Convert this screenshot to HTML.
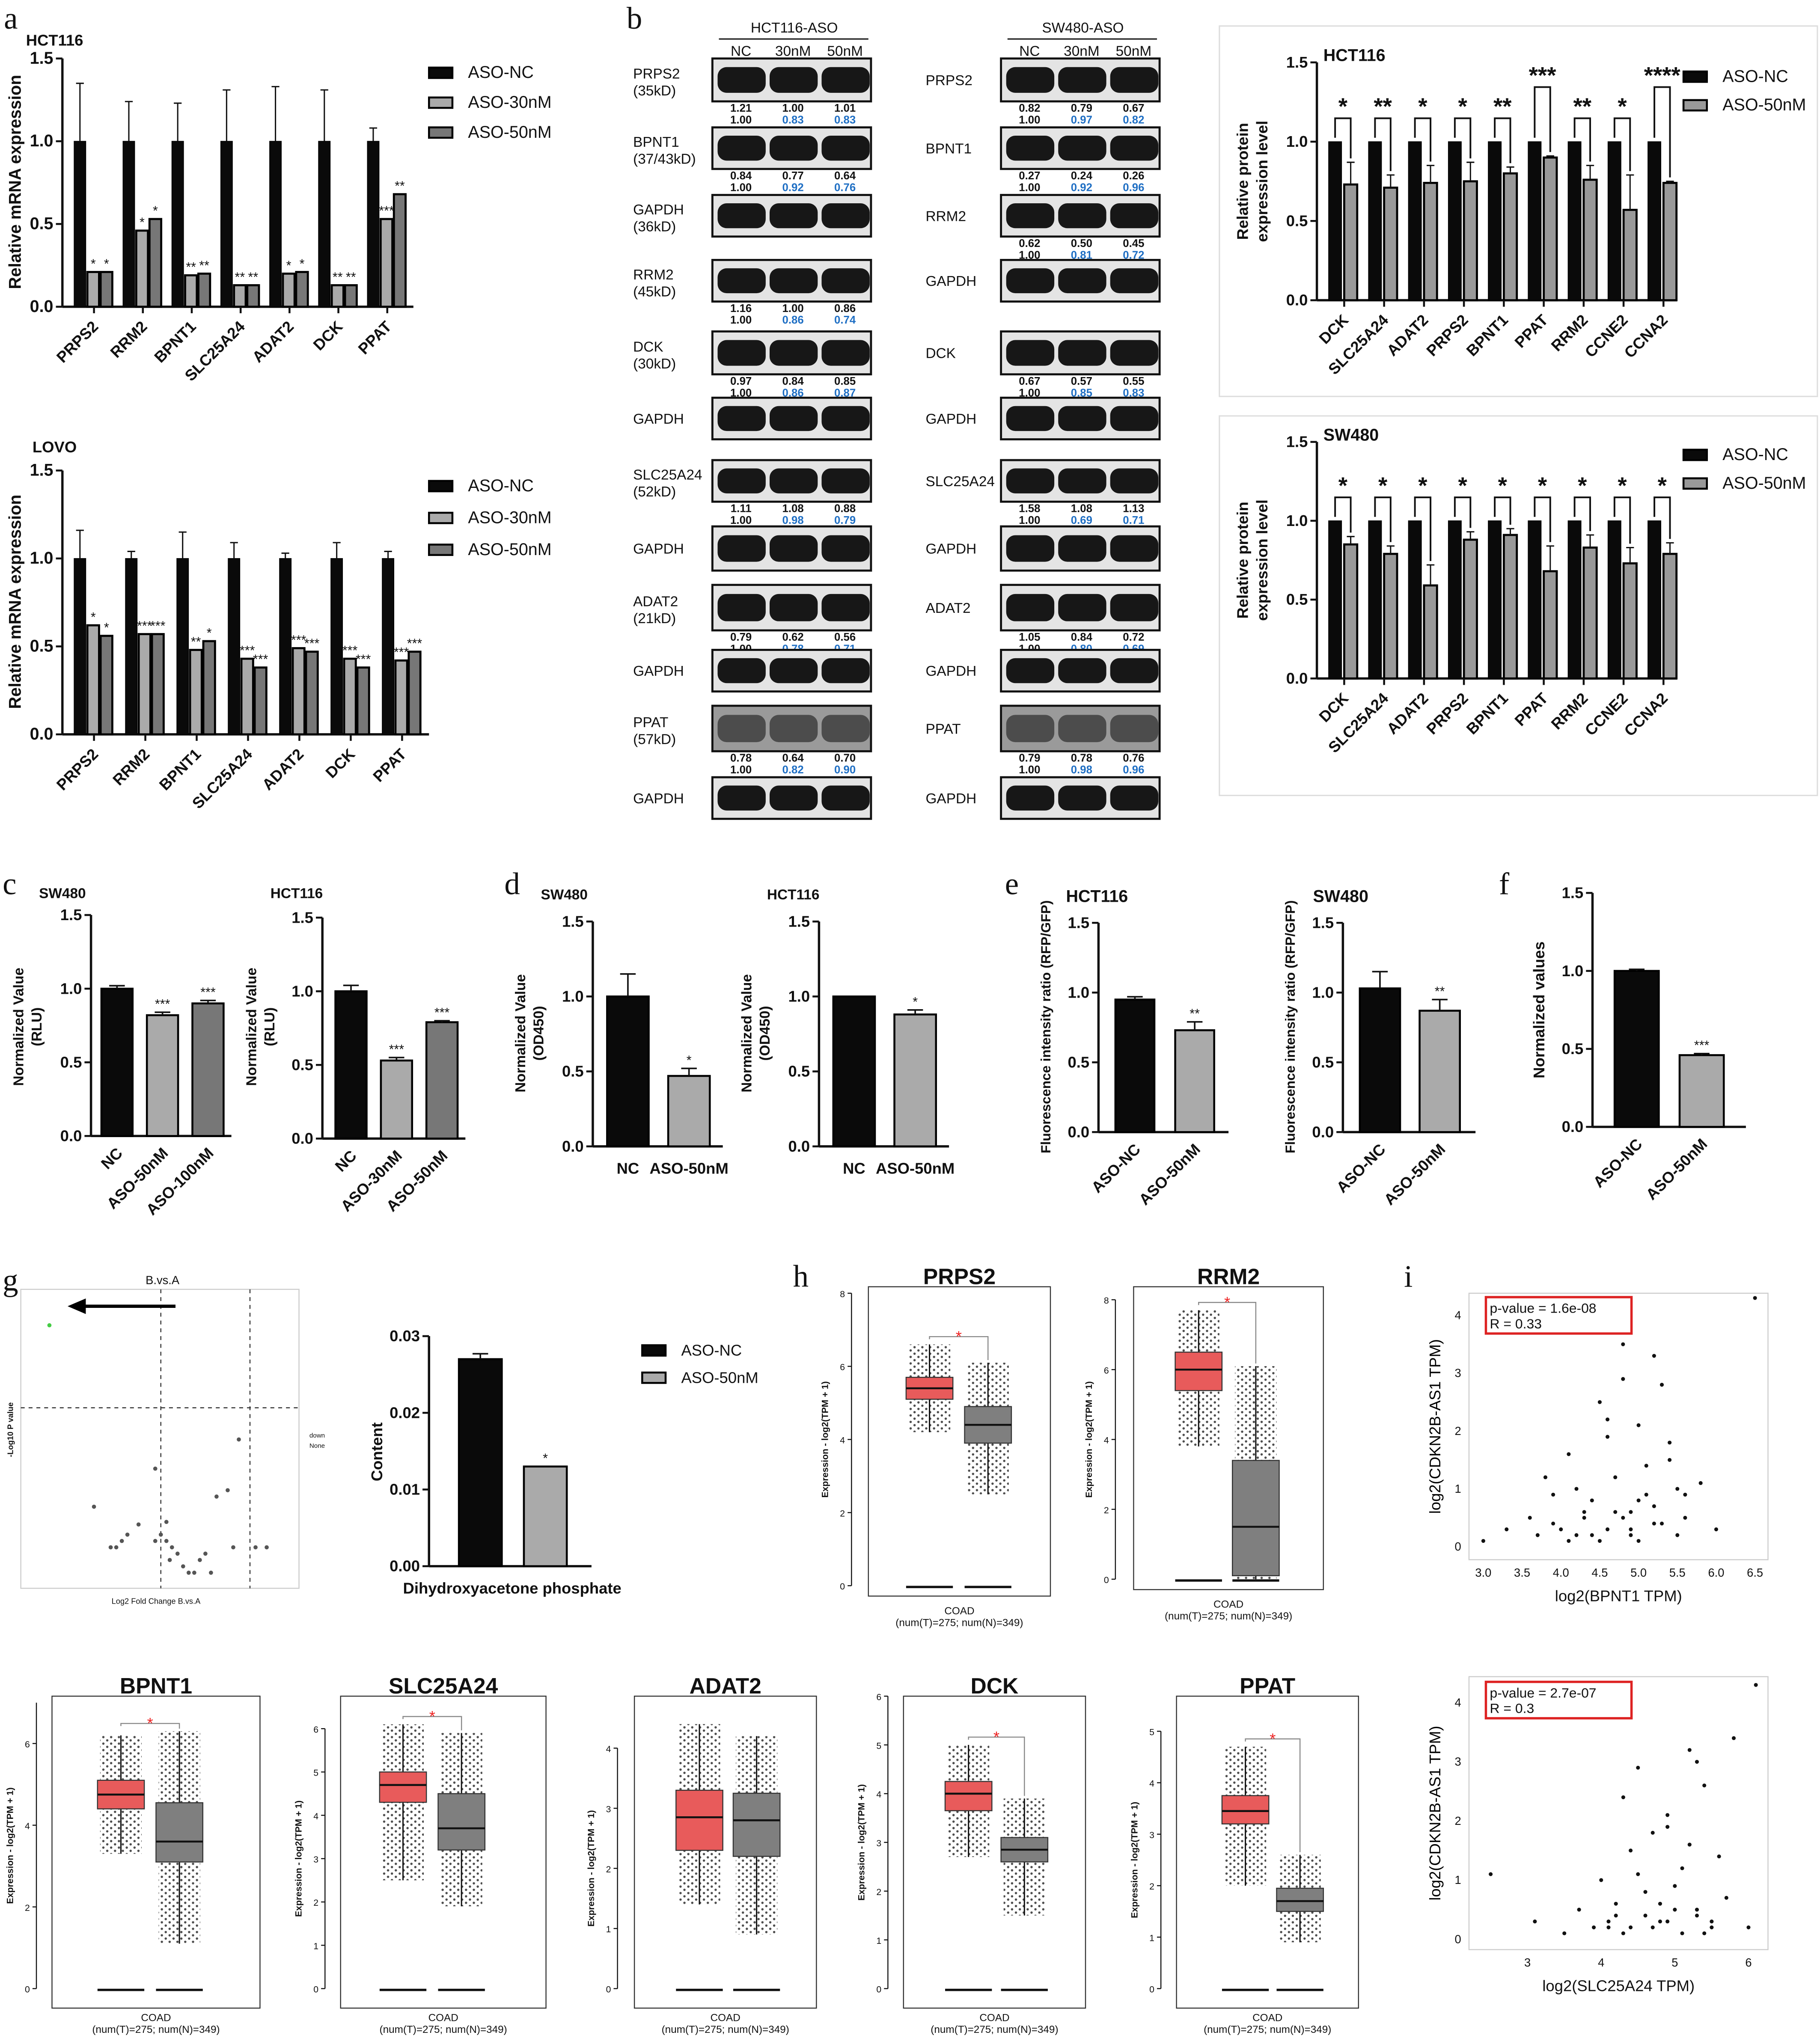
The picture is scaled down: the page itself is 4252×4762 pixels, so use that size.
<!DOCTYPE html>
<html><head><meta charset="utf-8"><style>
html,body{margin:0;padding:0;background:#fff;}
svg{display:block;font-family:"Liberation Sans",Arial,sans-serif;}
</style></head><body>
<svg id="fig" xmlns="http://www.w3.org/2000/svg" width="4252" height="4762" viewBox="0 0 1400 1568" preserveAspectRatio="none">
<defs>
<pattern id="dots" width="6" height="5" patternUnits="userSpaceOnUse"><circle cx="1.5" cy="1.5" r="0.9" fill="#111"/><circle cx="4.5" cy="4" r="0.9" fill="#111"/></pattern>
</defs>
</svg>
<script>
// ---------- DATA ----------
const aCats=['PRPS2','RRM2','BPNT1','SLC25A24','ADAT2','DCK','PPAT'];
const aHctNC=[1,1,1,1,1,1,1];
const aHct30=[0.21,0.46,0.19,0.13,0.20,0.13,0.53];
const aHct50=[0.21,0.53,0.20,0.13,0.21,0.13,0.68];
const aHctErrNC=[0.35,0.24,0.23,0.31,0.33,0.31,0.08];
const aHctStars30=['*','*','**','**','*','**','***'];
const aHctStars50=['*','*','**','**','*','**','**'];
const aLovoNC=[1,1,1,1,1,1,1];
const aLovo30=[0.62,0.57,0.48,0.43,0.49,0.43,0.42];
const aLovo50=[0.56,0.57,0.53,0.38,0.47,0.38,0.47];
const aLovoErrNC=[0.16,0.04,0.15,0.09,0.03,0.09,0.04];
const aLovoStars30=['*','***','**','***','***','***','***'];
const aLovoStars50=['*','***','*','***','***','***','***'];
const mrnaTicks=[0,0.5,1.0,1.5];
const protCats=['DCK','SLC25A24','ADAT2','PRPS2','BPNT1','PPAT','RRM2','CCNE2','CCNA2'];
const protHct50=[0.73,0.71,0.74,0.75,0.80,0.90,0.76,0.57,0.74];
const protHctErr=[0.14,0.08,0.11,0.12,0.04,0.01,0.09,0.22,0.01];
const protHctStars=['*','**','*','*','**','***','**','*','****'];
const protSw50=[0.85,0.79,0.59,0.88,0.91,0.68,0.83,0.73,0.79];
const protSwErr=[0.05,0.05,0.13,0.05,0.04,0.16,0.08,0.10,0.07];
const protSwStars=['*','*','*','*','*','*','*','*','*'];
const cSwCats=['NC','ASO-50nM','ASO-100nM'];const cSwVals=[1.0,0.82,0.90];const cSwErr=[0.02,0.02,0.02];const cSwStars=['','***','***'];
const cHctCats=['NC','ASO-30nM','ASO-50nM'];const cHctVals=[1.0,0.53,0.79];const cHctErr=[0.04,0.02,0.01];const cHctStars=['','***','***'];
const dSwVals=[1.0,0.47];const dSwErr=[0.15,0.05];const dSwStars=['','*'];
const dHctVals=[1.0,0.88];const dHctErr=[0.0,0.03];const dHctStars=['','*'];
const eHctVals=[0.95,0.73];const eHctErr=[0.02,0.06];const eHctStars=['','**'];
const eSwVals=[1.03,0.87];const eSwErr=[0.12,0.08];const eSwStars=['','**'];
const fVals=[1.0,0.46];const fErr=[0.01,0.01];const fStars=['','***'];
const gVals=[0.027,0.013];const gErr=[0.0007,0];const gStars=['','*'];
const twoCats=['ASO-NC','ASO-50nM'];
const volX=[-1.0,-0.6,-0.45,-0.4,-0.35,-0.3,-0.2,-0.05,0.0,0.05,0.08,0.1,0.15,0.2,0.25,0.3,0.35,0.4,0.45,0.5,0.6,0.65,0.7,0.85,0.95,-0.05,0.05];
const volY=[1.95,0.52,0.2,0.2,0.25,0.3,0.38,0.82,0.3,0.25,0.1,0.2,0.15,0.05,0.0,0.0,0.1,0.15,0.0,0.6,0.65,0.2,1.05,0.2,0.2,0.25,0.4];
const boxGenes=['PRPS2','RRM2','BPNT1','SLC25A24','ADAT2','DCK','PPAT'];
const tumQ1=[5.1,5.4,4.4,4.3,2.3,3.65,3.2];const tumMed=[5.4,6.0,4.75,4.7,2.85,4.0,3.45];const tumQ3=[5.7,6.5,5.1,5.0,3.3,4.25,3.75];
const tumLo=[4.2,3.8,3.3,2.5,1.4,2.7,2.0];const tumHi=[6.6,7.7,6.2,6.1,4.4,5.0,4.7];
const norQ1=[3.9,0.1,3.1,3.2,2.2,2.6,1.5];const norMed=[4.4,1.5,3.6,3.7,2.8,2.85,1.7];const norQ3=[4.9,3.4,4.55,4.5,3.25,3.1,1.95];
const norLo=[2.5,0.0,1.1,1.9,0.9,1.5,0.9];const norHi=[6.1,6.1,6.3,5.9,4.2,3.9,2.6];
const boxMax=[8,8,7,6,4,6,5];
const boxStar=[true,true,true,true,false,true,true];
const sc1X=[3.0,3.3,3.6,3.7,3.8,3.9,4.0,4.1,4.2,4.3,4.4,4.5,4.6,4.7,4.8,4.9,5.0,5.1,5.2,5.3,5.4,5.5,5.6,5.8,6.0,6.5,4.5,4.7,4.9,5.1,5.3,4.2,4.4,4.6,4.8,5.0,5.2,5.4,4.6,4.9,5.2,5.5,4.3,4.8,5.0,5.6,3.9,4.1];
const sc1Y=[0.1,0.3,0.5,0.2,1.2,0.4,0.3,1.6,0.2,0.5,0.8,2.5,0.3,1.2,3.5,0.6,2.1,1.4,3.3,0.4,1.8,0.2,0.9,1.1,0.3,4.3,0.1,0.6,0.3,0.9,2.8,1.0,0.2,2.2,0.5,0.1,0.7,1.5,1.9,0.2,0.4,1.0,0.6,2.9,0.8,0.5,0.9,0.1];
const sc2X=[2.5,3.1,3.5,3.7,3.9,4.0,4.1,4.2,4.3,4.4,4.5,4.6,4.7,4.8,4.9,5.0,5.1,5.2,5.3,5.4,5.5,5.6,5.8,6.0,6.1,4.3,4.6,4.9,5.2,5.5,4.2,4.5,4.8,5.1,5.4,4.4,4.7,5.0,5.3,5.7,4.1,4.9,5.3];
const sc2Y=[1.1,0.3,0.1,0.5,0.2,1.0,0.3,0.6,2.4,0.2,1.1,0.4,1.8,0.3,2.1,0.9,0.1,3.2,0.5,2.6,0.3,1.4,3.4,0.2,4.3,0.1,0.8,0.3,1.6,0.2,0.4,2.9,0.6,1.2,0.1,1.5,0.2,0.5,3.0,0.7,0.2,1.9,0.4];

// ---------- HELPERS ----------
const NS='http://www.w3.org/2000/svg';
const svg=document.getElementById('fig');
function mk(tag,attrs,parent){const e=document.createElementNS(NS,tag);for(const k in attrs)e.setAttribute(k,attrs[k]);(parent||svg).appendChild(e);return e;}
function tx(x,y,s,attrs,name){const e=mk('text',Object.assign({x:x,y:y,'font-size':12,fill:'#111'},attrs||{}));e.textContent=s;


return e;}
function ln(x1,y1,x2,y2,w,name,col){const e=mk('line',{x1:x1,y1:y1,x2:x2,y2:y2,stroke:col||'#111','stroke-width':w||1.5});


return e;}
function scaleY(yTop,yBot,max){return v=>yBot-(v/max)*(yBot-yTop);}

function yAxis(ax,yTop,yBot,max,ticks,fmt,fs,bold){
  const y=scaleY(yTop,yBot,max);
  ln(ax,yTop,ax,yBot,1.8,'y-axis');
  ticks.forEach(t=>{ln(ax-5,y(t),ax,y(t),1.5,'y-tick');tx(ax-7,y(t)+4,fmt(t),{'text-anchor':'end','font-size':fs||12,'font-weight':bold?'bold':'normal'},'y-tick-label');});
  return y;
}
function ytitle(x,y,s,fs,name){tx(x,y,s,{'text-anchor':'middle','font-size':fs||13,'font-weight':'bold',transform:'rotate(-90 '+x+' '+y+')'},name||'y-axis-title');}
function rotLabel(x,y,s,fs){tx(x,y,s,{'text-anchor':'end','font-size':fs||13,'font-weight':'bold',transform:'rotate(-45 '+x+' '+y+')'},'x-tick-label');}

function grouped(c){
  const y=yAxis(c.ax,c.yTop,c.yBot,c.max,c.ticks,c.fmt,c.fs,true);
  ln(c.ax,c.yBot,c.xEnd,c.yBot,1.8,'x-axis');
  const n=c.series.length;
  c.cats.forEach((cat,i)=>{
    const gx=c.x0+i*c.step;
    c.series.forEach((vals,s)=>{
      const bx=gx+s*(c.bw+c.gap);
      const r=mk('rect',{x:bx,y:y(vals[i]),width:c.bw,height:c.yBot-y(vals[i]),fill:c.fills[s],stroke:'#000','stroke-width':s?1.6:0.5});
      
      
      const err=c.errs[s]?c.errs[s][i]:0;
      if(err>0){ln(bx+c.bw/2,y(vals[i]),bx+c.bw/2,y(vals[i]+err),1,'error-bar');ln(bx+c.bw/2-3,y(vals[i]+err),bx+c.bw/2+3,y(vals[i]+err),1,'error-cap');}
      if(c.stars&&c.stars[s]&&c.stars[s][i]) tx(bx+c.bw/2,y(vals[i]+err)-3,c.stars[s][i],{'text-anchor':'middle','font-size':c.starFs||10},'significance-star');
    });
    const cx=gx+(n*(c.bw+c.gap))/2;
    ln(cx,c.yBot,cx,c.yBot+5,1.5,'x-tick');
    rotLabel(cx+4,c.yBot+16,cat,c.lfs);
  });
}
function legend(x,y,items,fills,fs,gap){
  items.forEach((s,i)=>{const r=mk('rect',{x:x,y:y+i*gap-8,width:18,height:8,fill:fills[i],stroke:'#000','stroke-width':1.5});
  
  
  tx(x+30,y+i*gap,s,{'font-size':fs||13},'legend-entry');});
}
function simple(c){
  const y=yAxis(c.ax,c.yTop,c.yBot,c.max,c.ticks,c.fmt,12,true);
  ln(c.ax,c.yBot,c.xEnd,c.yBot,1.8,'x-axis');
  c.vals.forEach((v,i)=>{
    const bx=c.x0+i*c.step;
    const r=mk('rect',{x:bx,y:y(v),width:c.bw,height:c.yBot-y(v),fill:c.fills[i],stroke:'#000','stroke-width':1.5});
    
    
    const e=c.errs[i];
    if(e>0){ln(bx+c.bw/2,y(v),bx+c.bw/2,y(v+e),1.2,'error-bar');ln(bx+c.bw/2-6,y(v+e),bx+c.bw/2+6,y(v+e),1.2,'error-cap');}
    if(c.stars[i]) tx(bx+c.bw/2,y(v+e)-3,c.stars[i],{'text-anchor':'middle','font-size':10},'significance-star');
    const cx=bx+c.bw/2;
    if(c.rot) rotLabel(cx+5,c.yBot+14,c.cats[i],12); else tx(cx,c.yBot+21,c.cats[i],{'text-anchor':'middle','font-size':12,'font-weight':'bold'},'x-tick-label');
  });
}
const f1=v=>v.toFixed(1), f2=v=>v.toFixed(2);

// ---------- PANEL LETTERS ----------
[['a',3,22],['b',482,22],['c',2,688],['d',388,688],['e',773,688],['f',1153,688],['g',2,993],['h',610,990],['i',1080,990]].forEach(p=>tx(p[1],p[2],p[0],{'font-size':24,'font-family':'Liberation Serif,serif'},'panel-letter-'+p[0]));

// ---------- PANEL A ----------
tx(20,35,'HCT116',{'font-size':12,'font-weight':'bold'},'panel-title');
grouped({ax:48,yTop:45,yBot:236,max:1.5,ticks:mrnaTicks,fmt:f1,cats:aCats,series:[aHctNC,aHct30,aHct50],errs:[aHctErrNC,null,null],stars:[null,aHctStars30,aHctStars50],fills:['#0a0a0a','#aaa','#777'],sNames:['nc','30nm','50nm'],x0:57,step:37.6,bw:9,gap:1.2,xEnd:318,fs:13,lfs:12});
ytitle(16,140,'Relative mRNA expression',13);
legend(330,60,['ASO-NC','ASO-30nM','ASO-50nM'],['#0a0a0a','#aaa','#777'],13,23);
tx(25,348,'LOVO',{'font-size':12,'font-weight':'bold'},'panel-title');
grouped({ax:48,yTop:362,yBot:565,max:1.5,ticks:mrnaTicks,fmt:f1,cats:aCats,series:[aLovoNC,aLovo30,aLovo50],errs:[aLovoErrNC,null,null],stars:[null,aLovoStars30,aLovoStars50],fills:['#0a0a0a','#aaa','#777'],sNames:['nc','30nm','50nm'],x0:57,step:39.5,bw:9,gap:1.2,xEnd:330,fs:13,lfs:12});
ytitle(16,463,'Relative mRNA expression',13);
legend(330,378,['ASO-NC','ASO-30nM','ASO-50nM'],['#0a0a0a','#aaa','#777'],13,24.5);

// ---------- PANEL B (western blots) ----------
function blot(x,y,h,name,dark){
  const g=mk('g',{});
  
  
  mk('rect',{x:x,y:y,width:122,height:h,fill:dark?'#9a9a9a':'#e4e4e4',stroke:'#111','stroke-width':1.6},g);
  for(let k=0;k<3;k++) mk('rect',{x:x+4+k*40,y:y+h*0.2,width:37,height:h*0.6,rx:7,fill:'#0c0c0c',opacity:dark?0.55:0.95},g);
}
const blotRows=[45,98,150,200,255,306,354,405,450,500,543,598];
const blotH=[33,32,32,32,33,32,32,34,35,32,35,32];
const leftLab=[['PRPS2','(35kD)'],['BPNT1','(37/43kD)'],['GAPDH','(36kD)'],['RRM2','(45kD)'],['DCK','(30kD)'],['GAPDH',''],['SLC25A24','(52kD)'],['GAPDH',''],['ADAT2','(21kD)'],['GAPDH',''],['PPAT','(57kD)'],['GAPDH','']];
const rightLab=['PRPS2','BPNT1','RRM2','GAPDH','DCK','GAPDH','SLC25A24','GAPDH','ADAT2','GAPDH','PPAT','GAPDH'];
const leftNums={0:[['1.21','1.00','1.01'],['1.00','0.83','0.83']],1:[['0.84','0.77','0.64'],['1.00','0.92','0.76']],3:[['1.16','1.00','0.86'],['1.00','0.86','0.74']],4:[['0.97','0.84','0.85'],['1.00','0.86','0.87']],6:[['1.11','1.08','0.88'],['1.00','0.98','0.79']],8:[['0.79','0.62','0.56'],['1.00','0.78','0.71']],10:[['0.78','0.64','0.70'],['1.00','0.82','0.90']]};
const rightNums={0:[['0.82','0.79','0.67'],['1.00','0.97','0.82']],1:[['0.27','0.24','0.26'],['1.00','0.92','0.96']],2:[['0.62','0.50','0.45'],['1.00','0.81','0.72']],4:[['0.67','0.57','0.55'],['1.00','0.85','0.83']],6:[['1.58','1.08','1.13'],['1.00','0.69','0.71']],8:[['1.05','0.84','0.72'],['1.00','0.80','0.69']],10:[['0.79','0.78','0.76'],['1.00','0.98','0.96']]};
[[548,'HCT116-ASO'],[770,'SW480-ASO']].forEach(s=>{
  tx(s[0]+63,25,s[1],{'text-anchor':'middle','font-size':11},'blot-group-title');
  ln(s[0]+5,30,s[0]+120,30,1,'blot-group-line');
  ['NC','30nM','50nM'].forEach((l,k)=>tx(s[0]+22+k*40,43,l,{'text-anchor':'middle','font-size':11},'lane-label'));
});
blotRows.forEach((yy,i)=>{
  blot(548,yy,blotH[i],'blot-left-'+leftLab[i][0].toLowerCase(),i===10);
  blot(770,yy,blotH[i],'blot-right-'+rightLab[i].toLowerCase(),i===10);
  tx(487,yy+blotH[i]/2-(leftLab[i][1]?1:-4),leftLab[i][0],{'font-size':11},'blot-label');
  if(leftLab[i][1]) tx(487,yy+blotH[i]/2+12,leftLab[i][1],{'font-size':11},'blot-size-label');
  tx(712,yy+blotH[i]/2+4,rightLab[i],{'font-size':11},'blot-label');
  [[548,leftNums],[770,rightNums]].forEach(p=>{const nm=p[1][i];if(!nm)return;
    nm[0].forEach((v,k)=>tx(p[0]+22+k*40,yy+blotH[i]+8,v,{'text-anchor':'middle','font-size':8.5,'font-weight':'bold'},'band-ratio'));
    nm[1].forEach((v,k)=>tx(p[0]+22+k*40,yy+blotH[i]+17,v,{'text-anchor':'middle','font-size':8.5,'font-weight':'bold',fill:k?'#1f6fc4':'#111'},'band-ratio-normalized'));
  });
});

// protein panels
[[938,20,285],[938,320,292]].forEach((b,i)=>{const r=mk('rect',{x:b[0],y:b[1],width:460,height:b[2],fill:'none',stroke:'#ddd','stroke-width':1});

});
function protChart(yTop,yBot,vals,errs,stars,title,legY,xEnd){
  const y=scaleY(yTop,yBot,1.5);
  grouped({ax:1013,yTop:yTop,yBot:yBot,max:1.5,ticks:mrnaTicks,fmt:f1,cats:protCats,series:[[1,1,1,1,1,1,1,1,1],vals],errs:[null,errs],stars:null,fills:['#0a0a0a','#999'],sNames:['nc','50nm'],x0:1022,step:30.7,bw:10,gap:2,xEnd:xEnd,fs:12,lfs:12});
  tx(1018,yTop-1,title,{'font-size':13,'font-weight':'bold'},'panel-title');
  vals.forEach((v,i)=>{
    const cx1=1027+i*30.7, cx2=cx1+12, top=Math.min(y(1.0),y(v+errs[i]))-(stars[i].length>2?42:18);
    const p=mk('path',{d:'M'+cx1+' '+(y(1)-3)+'V'+top+'H'+cx2+'V'+(y(v+errs[i])-3),fill:'none',stroke:'#111','stroke-width':1.3});
    
    
    tx((cx1+cx2)/2,top-3,stars[i],{'text-anchor':'middle','font-size':18,'font-weight':'bold'},'significance-star');
  });
  ytitle(960,(yTop+yBot)/2,'Relative  protein',12);
  ytitle(975,(yTop+yBot)/2,'expression level',12);
  legend(1295,legY,['ASO-NC','ASO-50nM'],['#0a0a0a','#999'],13,22);
}
protChart(48,231,protHct50,protHctErr,protHctStars,'HCT116',63,1290);
protChart(340,522,protSw50,protSwErr,protSwStars,'SW480',354,1290);

// ---------- PANELS C-F, G content ----------
tx(30,691,'SW480',{'font-size':11,'font-weight':'bold'},'panel-title');
simple({ax:70,yTop:704,yBot:874,max:1.5,ticks:mrnaTicks,fmt:f1,cats:cSwCats,vals:cSwVals,errs:cSwErr,stars:cSwStars,fills:['#0a0a0a','#aaa','#777'],x0:78,step:35,bw:24,xEnd:178,rot:true});
ytitle(18,790,'Normalized Value',11);ytitle(32,790,'(RLU)',11);
tx(208,691,'HCT116',{'font-size':11,'font-weight':'bold'},'panel-title');
simple({ax:248,yTop:706,yBot:876,max:1.5,ticks:mrnaTicks,fmt:f1,cats:cHctCats,vals:cHctVals,errs:cHctErr,stars:cHctStars,fills:['#0a0a0a','#aaa','#777'],x0:258,step:35,bw:24,xEnd:358,rot:true});
ytitle(197,790,'Normalized Value',11);ytitle(211,790,'(RLU)',11);
tx(416,692,'SW480',{'font-size':11,'font-weight':'bold'},'panel-title');
simple({ax:456,yTop:709,yBot:882,max:1.5,ticks:mrnaTicks,fmt:f1,cats:['NC','ASO-50nM'],vals:dSwVals,errs:dSwErr,stars:dSwStars,fills:['#0a0a0a','#aaa'],x0:467,step:47,bw:32,xEnd:556,rot:false});
ytitle(404,795,'Normalized Value',11);ytitle(418,795,'(OD450)',11);
tx(590,692,'HCT116',{'font-size':11,'font-weight':'bold'},'panel-title');
simple({ax:630,yTop:709,yBot:882,max:1.5,ticks:mrnaTicks,fmt:f1,cats:['NC','ASO-50nM'],vals:dHctVals,errs:dHctErr,stars:dHctStars,fills:['#0a0a0a','#aaa'],x0:641,step:47,bw:32,xEnd:730,rot:false});
ytitle(578,795,'Normalized Value',11);ytitle(592,795,'(OD450)',11);
tx(820,694,'HCT116',{'font-size':13,'font-weight':'bold'},'panel-title');
simple({ax:845,yTop:710,yBot:871,max:1.5,ticks:mrnaTicks,fmt:f1,cats:twoCats,vals:eHctVals,errs:eHctErr,stars:eHctStars,fills:['#0a0a0a','#aaa'],x0:858,step:46,bw:30,xEnd:945,rot:true});
ytitle(808,790,'Fluorescence intensity ratio (RFP/GFP)',10.5);
tx(1010,694,'SW480',{'font-size':13,'font-weight':'bold'},'panel-title');
simple({ax:1033,yTop:710,yBot:871,max:1.5,ticks:mrnaTicks,fmt:f1,cats:twoCats,vals:eSwVals,errs:eSwErr,stars:eSwStars,fills:['#0a0a0a','#aaa'],x0:1046,step:46,bw:31,xEnd:1135,rot:true});
ytitle(996,790,'Fluorescence intensity ratio (RFP/GFP)',10.5);
simple({ax:1225,yTop:687,yBot:867,max:1.5,ticks:mrnaTicks,fmt:f1,cats:twoCats,vals:fVals,errs:fErr,stars:fStars,fills:['#0a0a0a','#aaa'],x0:1242,step:50,bw:34,xEnd:1343,rot:true});
ytitle(1188,777,'Normalized values',12);
simple({ax:330,yTop:1028,yBot:1205,max:0.03,ticks:[0,0.01,0.02,0.03],fmt:f2,cats:['',''],vals:gVals,errs:gErr,stars:gStars,fills:['#0a0a0a','#aaa'],x0:353,step:50,bw:33,xEnd:455,rot:false});
tx(394,1226,'Dihydroxyacetone phosphate',{'text-anchor':'middle','font-size':12,'font-weight':'bold'},'x-axis-title');
ytitle(294,1117,'Content',12);
legend(494,1043,['ASO-NC','ASO-50nM'],['#0a0a0a','#aaa'],12,21);

// ---------- PANEL G volcano ----------
(function(){
  const L=16,R=230,T=992,B=1222;
  const fr=mk('rect',{x:L,y:T,width:R-L,height:B-T,fill:'none',stroke:'#ccc','stroke-width':0.8});
  
  
  const vx=v=>38+(v+1.0)/2.1*180, vy=v=>1210-v/2.1*205;
  tx(125,988,'B.vs.A',{'text-anchor':'middle','font-size':9},'volcano-title');
  ln(vx(-0.0),T,vx(0),B,0.8,'threshold-line','#333').setAttribute('stroke-dasharray','3,3');
  ln(vx(0.8),T,vx(0.8),B,0.8,'threshold-line','#333').setAttribute('stroke-dasharray','3,3');
  ln(L,vy(1.3),R,vy(1.3),0.8,'threshold-line','#333').setAttribute('stroke-dasharray','3,3');
  volX.forEach((v,i)=>{const c=mk('circle',{cx:vx(v),cy:vy(volY[i]),r:1.6,fill:i===0?'#4c4':'#555'});
  
  });
  const a=mk('path',{d:'M135 1005H62',stroke:'#000','stroke-width':2.5,fill:'none'});
  
  
  const ah=mk('path',{d:'M52 1005L66 999L66 1011Z',fill:'#000'});
  
  
  tx(238,1106,'down',{'font-size':5},'legend-entry');tx(238,1114,'None',{'font-size':5},'legend-entry');
  tx(120,1234,'Log2 Fold Change B.vs.A',{'text-anchor':'middle','font-size':6},'x-axis-title');
  ytitle(10,1100,'-Log10 P value',6);
})();

// ---------- PANEL H boxplots ----------
const boxLayout=[[655,668,808,995,1220,715,760],[858,872,1018,1000,1215,922,966],[28,40,200,1310,1530,93,138],[250,262,420,1330,1530,310,355],[475,488,628,1345,1530,538,582],[683,695,835,1305,1530,745,788],[893,905,1045,1332,1530,958,1000]];
boxGenes.forEach((g,i)=>{
  const [ax,fl,fr,yT,yB,ct,cn]=boxLayout[i];
  const y=scaleY(yT,yB,boxMax[i]);
  const frm=mk('rect',{x:fl,y:(i<2?990:1305),width:fr-fl,height:(i<2?yB+8-990:1545-1305),fill:'none',stroke:'#333','stroke-width':0.8});
  
  
  tx((fl+fr)/2,(i<2?988:1303),g,{'text-anchor':'middle','font-size':17,'font-weight':'bold'},'boxplot-title');
  ln(ax,y(boxMax[i]),ax,y(0),0.8,'y-axis');
  for(let t=0;t<=boxMax[i];t+=(boxMax[i]>6?2:1)){ln(ax-3,y(t),ax,y(t),0.8,'y-tick');tx(ax-5,y(t)+3,String(t),{'text-anchor':'end','font-size':7},'y-tick-label');}
  ytitle(ax-18,(yT+yB)/2,'Expression - log2(TPM + 1)',7);
  [[ct,tumQ1,tumMed,tumQ3,tumLo,tumHi,'#e85b5b','tumor'],[cn,norQ1,norMed,norQ3,norLo,norHi,'#7f7f7f','normal']].forEach(b=>{
    const c=b[0];
    const cloud=mk('rect',{x:c-16,y:y(b[5][i]),width:32,height:y(b[4][i])-y(b[5][i]),fill:'url(#dots)',opacity:0.75});
    
    
    ln(c,y(b[5][i]),c,y(b[4][i]),1,'whisker');
    const r=mk('rect',{x:c-18,y:y(b[3][i]),width:36,height:y(b[1][i])-y(b[3][i]),fill:b[6],stroke:'#333','stroke-width':0.8});
    
    
    ln(c-18,y(b[2][i]),c+18,y(b[2][i]),1.5,'median-line');
    ln(c-18,y(0)+1,c+18,y(0)+1,1.8,'baseline-segment');
  });
  if(boxStar[i]){const yy=y(Math.max(tumHi[i],norHi[i]))-6;
    const p=mk('path',{d:'M'+ct+' '+(yy+2)+'V'+yy+'H'+cn+'V'+(y(norHi[i])-2),fill:'none',stroke:'#888','stroke-width':0.8});
    
    
    tx((ct+cn)/2,yy+4,'*',{'text-anchor':'middle','font-size':12,fill:'#e22'},'significance-star');}
  const bb=(i<2?yB+22:1555);
  tx((fl+fr)/2,bb,'COAD',{'text-anchor':'middle','font-size':8},'x-axis-label');
  tx((fl+fr)/2,bb+9,'(num(T)=275; num(N)=349)',{'text-anchor':'middle','font-size':8},'x-axis-sub-label');
});

// ---------- PANEL I scatter ----------
function scatter(xs,ys,xMin,xMax,xPx0,xPx1,y0,y4,xticks,xlab,ylab,pv,R,fr,box){
  const sx=v=>xPx0+(v-xMin)/(xMax-xMin)*(xPx1-xPx0), sy=scaleY(y4,y0,4);
  const f=mk('rect',{x:fr[0],y:fr[1],width:fr[2],height:fr[3],fill:'none',stroke:'#ccc','stroke-width':0.8});
  
  
  xs.forEach((v,i)=>{const c=mk('circle',{cx:sx(v),cy:sy(ys[i]),r:1.5,fill:'#111'});
  
  });
  xticks.forEach(t=>tx(sx(t),fr[1]+fr[3]+13,t.toFixed(xticks.length>5?1:0),{'text-anchor':'middle','font-size':9},'x-tick-label'));
  [0,1,2,3,4].forEach(t=>tx(fr[0]-6,sy(t)+3,String(t),{'text-anchor':'end','font-size':9},'y-tick-label'));
  tx((fr[0]*2+fr[2])/2,fr[1]+fr[3]+32,xlab,{'text-anchor':'middle','font-size':12},'x-axis-title');
  const yt=mk('text',{x:fr[0]-22,y:fr[1]+fr[3]/2,'text-anchor':'middle','font-size':12,transform:'rotate(-90 '+(fr[0]-22)+' '+(fr[1]+fr[3]/2)+')'});
  yt.textContent=ylab;
  
  
  const bx=mk('rect',{x:box[0],y:box[1],width:112,height:28,fill:'none',stroke:'#d22','stroke-width':1.8});
  
  
  tx(box[0]+3,box[1]+12,'p-value = '+pv,{'font-size':10.5},'p-value');
  tx(box[0]+3,box[1]+24,'R = '+R,{'font-size':10.5},'r-value');
}
scatter(sc1X,sc1Y,3.0,6.5,1141,1350,1190,1012,[3.0,3.5,4.0,4.5,5.0,5.5,6.0,6.5],'log2(BPNT1 TPM)','log2(CDKN2B-AS1 TPM)','1.6e-08','0.33',[1130,995,230,205],[1143,998]);
scatter(sc2X,sc2Y,3,6,1175,1345,1492,1310,[3,4,5,6],'log2(SLC25A24 TPM)','log2(CDKN2B-AS1 TPM)','2.7e-07','0.3',[1130,1290,230,210],[1143,1294]);
</script>
</body></html>
